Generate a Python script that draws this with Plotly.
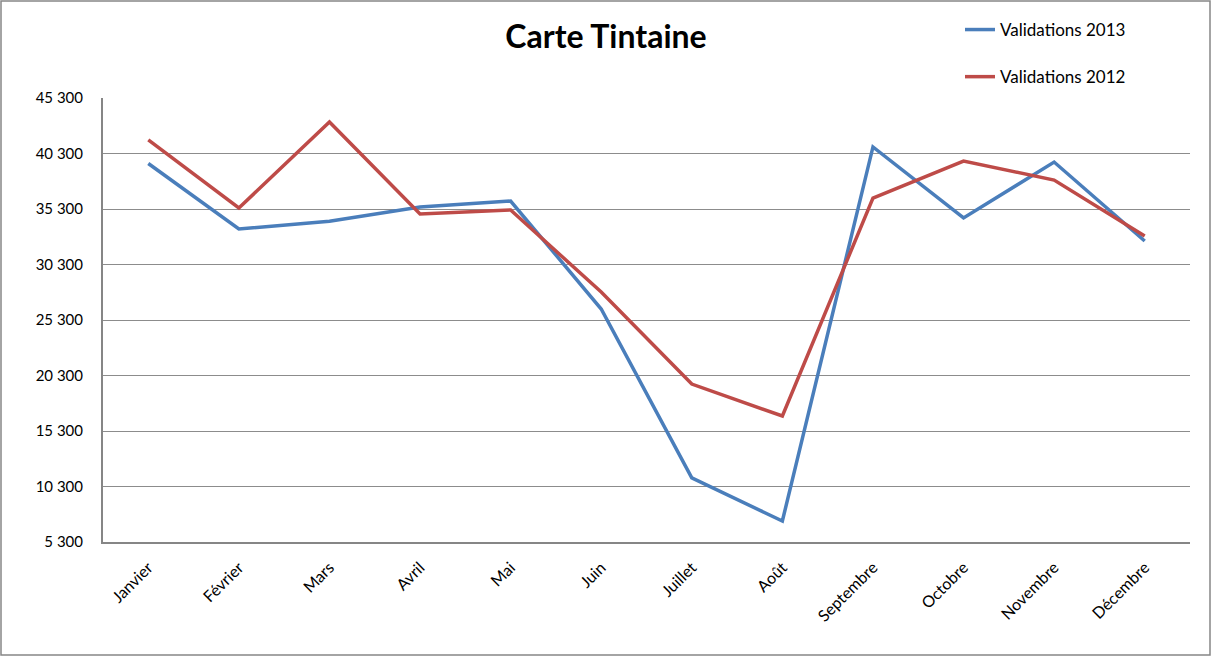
import plotly.graph_objects as go

months = ["Janvier", "Février", "Mars", "Avril", "Mai", "Juin", "Juillet",
          "Août", "Septembre", "Octobre", "Novembre", "Décembre"]
validations_2013 = [39400, 33500, 34200, 35480, 36020, 26290, 11070,
                    7190, 40890, 34490, 39530, 32420]
validations_2012 = [41520, 35390, 43140, 34850, 35210, 27820, 19530,
                    16650, 36290, 39620, 37910, 32870]
y_ticks = [5300, 10300, 15300, 20300, 25300, 30300, 35300, 40300, 45300]
y_tick_labels = ["5 300", "10 300", "15 300", "20 300", "25 300",
                 "30 300", "35 300", "40 300", "45 300"]

FONT = "Lato, 'Open Sans', sans-serif"

fig = go.Figure()
fig.add_trace(go.Scatter(x=months, y=validations_2013, mode="lines",
                         name="Validations 2013", legendgroup="a",
                         line=dict(color="#4A7EBB", width=3.5)))
fig.add_trace(go.Scatter(x=months, y=validations_2012, mode="lines",
                         name="Validations 2012", legendgroup="b",
                         line=dict(color="#BE4B48", width=3.5)))

W, H = 1212, 656
L, R, T, B = 103, 22, 98, 114
pw, ph = W - L - R, H - T - B

fig.update_layout(
    width=W, height=H,
    margin=dict(l=L, r=R, t=T, b=B),
    paper_bgcolor="white", plot_bgcolor="white",
    font=dict(family=FONT, size=14, color="black"),
    title=dict(text="<b>Carte Tintaine</b>", x=(606 - L) / pw, xref="paper",
               xanchor="center", y=1 - 37 / H, yanchor="middle",
               font=dict(size=32, family=FONT, color="black")),
    showlegend=True,
    legend=dict(x=(960 - L) / pw, y=1 + (98 - 12) / ph, xanchor="left", yanchor="top",
                xref="paper", yref="paper", tracegroupgap=22,
                traceorder="grouped",
                font=dict(size=17, family=FONT), bgcolor="rgba(0,0,0,0)"),
    xaxis=dict(range=[-0.5, 11.5], showgrid=False, showline=True,
               linecolor="#868686", linewidth=2, tickangle=-45, ticks="",
               ticklabelstandoff=8,
               tickfont=dict(size=16), fixedrange=True),
    yaxis=dict(range=[5300, 45300], tickvals=y_ticks, ticktext=y_tick_labels,
               showgrid=True, gridcolor="#8c8c8c", gridwidth=1.3,
               showline=True, linecolor="#868686", linewidth=2,
               zeroline=False, ticks="", ticklabelstandoff=15,
               tickfont=dict(size=15), fixedrange=True),
)

# outer chart border
fig.add_shape(type="rect", xref="paper", yref="paper",
              x0=(1 - L) / pw, x1=(W - 2 - L) / pw,
              y0=-(B - 1) / ph, y1=1 + (T - 1) / ph,
              line=dict(color="#868686", width=1.5), fillcolor="rgba(0,0,0,0)",
              layer="below")

fig.write_html("out.html", config={"displayModeBar": False},
               post_script="document.body.style.margin='0';document.body.style.overflow='hidden';")
